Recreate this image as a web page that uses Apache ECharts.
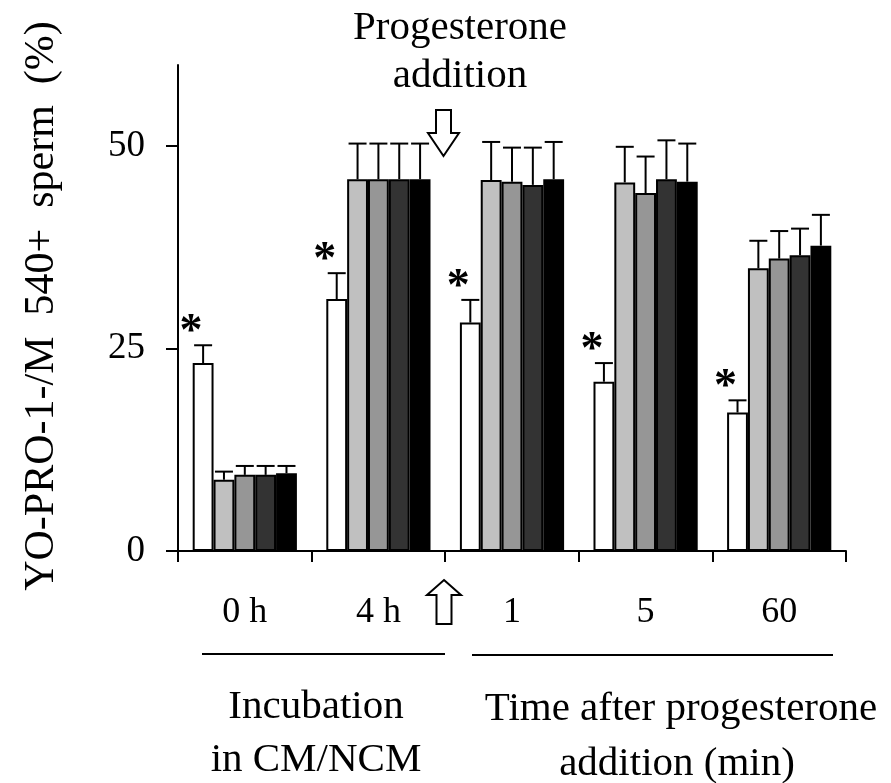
<!DOCTYPE html>
<html>
<head>
<meta charset="utf-8">
<script src="https://cdn.jsdelivr.net/npm/echarts@6/dist/echarts.min.js"></script>
<style>
html,body{margin:0;padding:0;background:#fff;}
#chart{width:891px;height:783px;}
</style>
</head>
<body>
<div id="chart"></div>
<script>
// ---- data ----
const categories = ['0 h', '4 h', '1', '5', '60'];
const yTicks = [0, 25, 50];
const seriesNames = ['Group 1', 'Group 2', 'Group 3', 'Group 4', 'Group 5'];
const valWhite = [23.2, 31.1, 28.2, 20.9, 17.1];
const valLight = [8.8, 45.9, 45.8, 45.5, 34.9];
const valMid   = [9.4, 45.9, 45.6, 44.2, 36.1];
const valDark  = [9.4, 45.9, 45.2, 45.9, 36.5];
const valBlack = [9.6, 45.9, 45.9, 45.6, 37.7];
const errWhite = [2.2, 3.2, 2.8, 2.3, 1.5];
const errLight = [1.0, 4.4, 4.7, 4.4, 3.4];
const errMid   = [1.1, 4.4, 4.2, 4.5, 3.4];
const errDark  = [1.1, 4.4, 4.6, 4.8, 3.3];
const errBlack = [0.9, 4.4, 4.6, 4.7, 3.8];
const significant = [1, 1, 1, 1, 1]; // asterisk above white bar

const values = [valWhite, valLight, valMid, valDark, valBlack];
const errors = [errWhite, errLight, errMid, errDark, errBlack];
const colors = ['#ffffff', '#c0c0c0', '#969696', '#333333', '#000000'];

const FONT = '"Liberation Serif", "Times New Roman", serif';
const CAT_GAP = 0.22;
const N = values.length;
const CAP = 18;

function barX(api, ci, k) {
  const c = api.coord([ci, 0]);
  const band = api.size([1, 0])[0];
  const groupW = band * (1 - CAT_GAP);
  const bw = groupW / N;
  return c[0] - groupW / 2 + (k + 0.5) * bw;
}

const series = [];
values.forEach((vals, k) => {
  series.push({
    name: seriesNames[k],
    type: 'bar',
    data: vals,
    barGap: '0%',
    barCategoryGap: (CAT_GAP * 100) + '%',
    itemStyle: { color: colors[k], borderColor: '#000', borderWidth: 2 },
    animation: false
  });
});
values.forEach((vals, k) => {
  series.push({
    type: 'custom',
    data: vals.map((v, i) => [i, v, errors[k][i]]),
    renderItem: function (params, api) {
      const ci = api.value(0), v = api.value(1), e = api.value(2);
      const x = barX(api, ci, k);
      const y0 = api.coord([ci, v])[1];
      const y1 = api.coord([ci, v + e])[1];
      const st = { stroke: '#000', lineWidth: 2 };
      return {
        type: 'group',
        children: [
          { type: 'line', shape: { x1: x, y1: y0, x2: x, y2: y1 }, style: st },
          { type: 'line', shape: { x1: x - CAP / 2, y1: y1, x2: x + CAP / 2, y2: y1 }, style: st }
        ]
      };
    },
    z: 3,
    animation: false
  });
});
// asterisks
series.push({
  type: 'custom',
  data: valWhite.map((v, i) => [i, v + errWhite[i], significant[i]]),
  renderItem: function (params, api) {
    if (!api.value(2)) return null;
    const ci = api.value(0);
    const x = barX(api, ci, 0);
    const y = api.coord([ci, api.value(1)])[1];
    return {
      type: 'text',
      x: x - 12,
      y: y - 12,
      style: { text: '*', font: 'bold 46px ' + FONT, fill: '#000', align: 'center', verticalAlign: 'middle' }
    };
  },
  z: 4,
  animation: false
});

const chart = echarts.init(document.getElementById('chart'), null, { renderer: 'canvas' });
const lineSt = { stroke: '#000', lineWidth: 2 };
chart.setOption({
  backgroundColor: '#fff',
  animation: false,
  grid: { left: 178, right: 45, top: 65, bottom: 232, containLabel: false },
  xAxis: {
    type: 'category',
    data: categories,
    axisLine: { lineStyle: { color: '#000', width: 2 } },
    axisTick: { show: true, length: 11, lineStyle: { color: '#000', width: 2 } },
    axisLabel: { color: '#000', fontFamily: FONT, fontSize: 36, margin: 44 }
  },
  yAxis: {
    type: 'value',
    min: 0,
    max: 60,
    interval: 25,
    splitLine: { show: false },
    axisLine: { show: true, lineStyle: { color: '#000', width: 2 } },
    axisTick: { show: true, length: 12, customValues: yTicks, lineStyle: { color: '#000', width: 2 } },
    axisLabel: { color: '#000', fontFamily: FONT, fontSize: 37, margin: 33, customValues: yTicks }
  },
  series: series,
  graphic: [
    { type: 'text', x: 42, y: 306, rotation: Math.PI / 2,
      style: { text: 'YO-PRO-1-/M  540+  sperm  (%)', font: '42px ' + FONT, fill: '#000', align: 'center', verticalAlign: 'middle' } },
    { type: 'text', x: 460, y: 28, style: { text: 'Progesterone', font: '41px ' + FONT, fill: '#000', align: 'center', verticalAlign: 'middle' } },
    { type: 'text', x: 460, y: 76, style: { text: 'addition', font: '41px ' + FONT, fill: '#000', align: 'center', verticalAlign: 'middle' } },
    { type: 'polygon', shape: { points: [[436, 110], [451, 110], [451, 133], [459, 133], [443.5, 156], [428, 133], [436, 133]] },
      style: { fill: '#fff', stroke: '#000', lineWidth: 2 } },
    { type: 'polygon', shape: { points: [[444, 580], [461, 595], [451.5, 595], [451.5, 624], [436.5, 624], [436.5, 595], [427, 595]] },
      style: { fill: '#fff', stroke: '#000', lineWidth: 2 } },
    { type: 'line', shape: { x1: 202, y1: 654, x2: 445, y2: 654 }, style: lineSt },
    { type: 'line', shape: { x1: 472, y1: 655, x2: 833, y2: 655 }, style: lineSt },
    { type: 'text', x: 316, y: 707, style: { text: 'Incubation', font: '41px ' + FONT, fill: '#000', align: 'center', verticalAlign: 'middle' } },
    { type: 'text', x: 316, y: 760, style: { text: 'in CM/NCM', font: '41px ' + FONT, fill: '#000', align: 'center', verticalAlign: 'middle' } },
    { type: 'text', x: 681, y: 709, style: { text: 'Time after progesterone', font: '41px ' + FONT, fill: '#000', align: 'center', verticalAlign: 'middle' } },
    { type: 'text', x: 677, y: 764, style: { text: 'addition (min)', font: '41px ' + FONT, fill: '#000', align: 'center', verticalAlign: 'middle' } }
  ]
});
</script>
</body>
</html>
